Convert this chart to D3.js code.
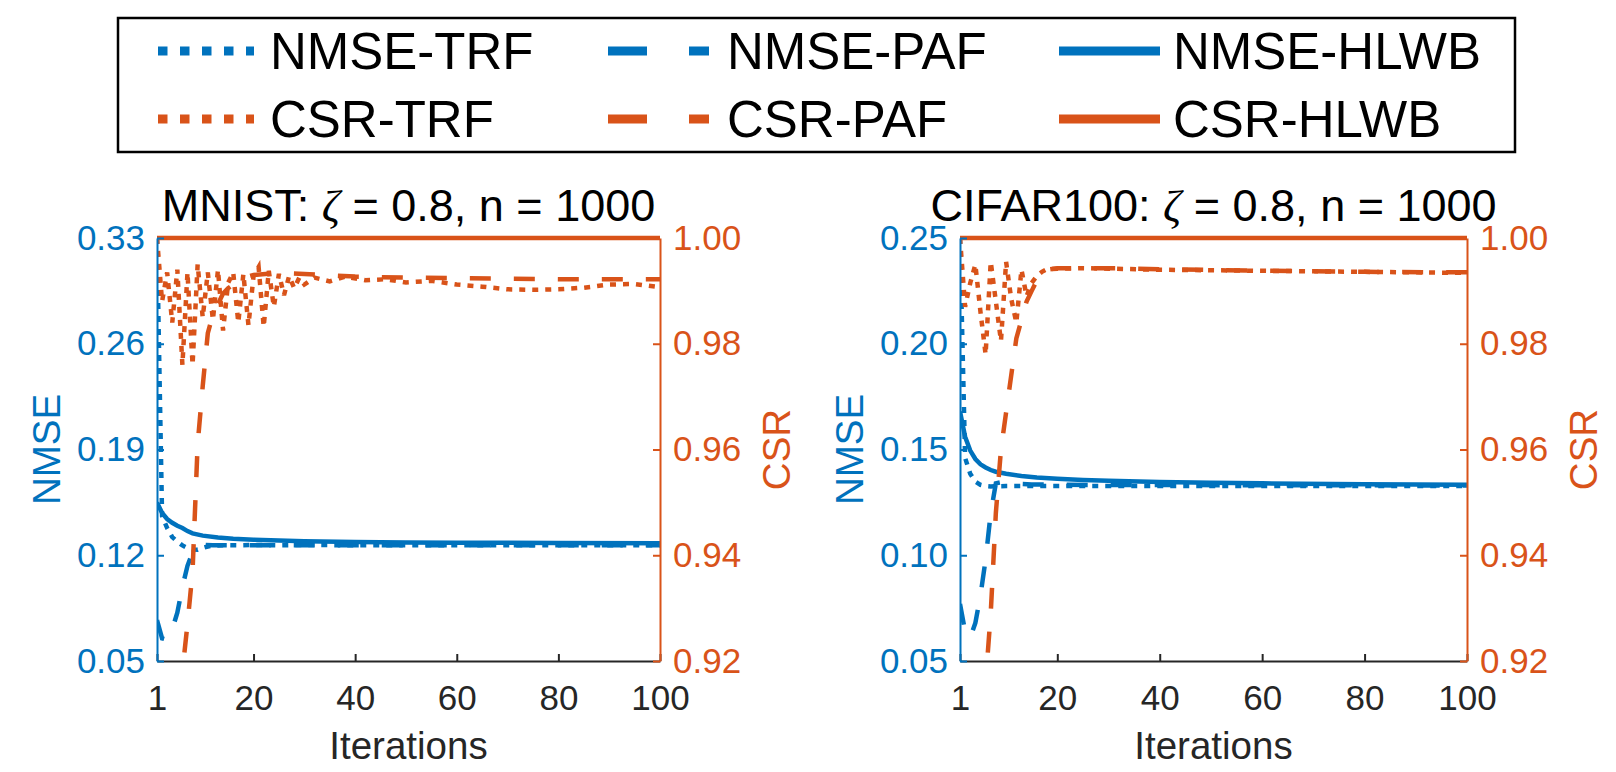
<!DOCTYPE html>
<html>
<head>
<meta charset="utf-8">
<script src="https://cdn.jsdelivr.net/npm/d3@7"></script>
<style>
  body { margin: 0; background: #fff; }
  svg { display: block; font-family: "Liberation Sans", Arial, Helvetica, sans-serif; }
</style>
</head>
<body>
<div id="chart"></div>
<script>
// Canvas size and colours (MATLAB default palette)
const width = 1616;
const height = 772;
const blue = "#0072BD";
const orange = "#D95319";
const dark = "#262626";

// Tick labels
const xTicks = [1, 20, 40, 60, 80, 100];
const csrTicks = [0.92, 0.94, 0.96, 0.98, 1.00];
const mnistNmseTicks = [0.05, 0.12, 0.19, 0.26, 0.33];
const cifarNmseTicks = [0.05, 0.10, 0.15, 0.20, 0.25];

// Legend entries
const legendNames = ["NMSE-TRF", "NMSE-PAF", "NMSE-HLWB", "CSR-TRF", "CSR-PAF", "CSR-HLWB"];

// MNIST series: [iteration, value]
const mnistNmseTRF = [[1,0.330],[2,0.146],[3,0.138],[4,0.132],[5,0.129],[6,0.1265],[7,0.1248],[8,0.1238],[9,0.1236],[10,0.1248],[11,0.1258],[12,0.1264],[14,0.1267],[17,0.1266],[20,0.1268],[25,0.1266],[30,0.1268],[40,0.1266],[50,0.1267],[60,0.1266],[70,0.1267],[80,0.1266],[90,0.1266],[100,0.1266]];
const mnistNmsePAF = [[1,0.077],[2,0.065],[3,0.064],[4,0.071],[5,0.082],[6,0.099],[7,0.113],[8,0.122],[9,0.1262],[10,0.1268],[12,0.1267],[20,0.1267],[40,0.1266],[60,0.1266],[80,0.1266],[100,0.1266]];
const mnistNmseHLWB = [[1,0.155],[2,0.148],[3,0.144],[4,0.1415],[5,0.1395],[6,0.138],[7,0.136],[8,0.1345],[10,0.133],[13,0.1318],[16,0.131],[20,0.1303],[25,0.1297],[30,0.1293],[40,0.1288],[50,0.1285],[60,0.1283],[80,0.1281],[100,0.128]];
const mnistCsrTRF = [[1,1.000],[2,0.988],[3,0.9935],[4,0.984],[5,0.994],[6,0.976],[7,0.9935],[8,0.976],[9,0.995],[10,0.985],[11,0.9935],[12,0.9845],[13,0.994],[14,0.9825],[15,0.9915],[16,0.9935],[17,0.984],[18,0.9932],[19,0.9835],[20,0.9928],[21,0.9945],[22,0.9832],[23,0.9938],[24,0.987],[25,0.9932],[26,0.9892],[27,0.9928],[28,0.9905],[29,0.9925],[30,0.9912],[32,0.9925],[35,0.9918],[38,0.9927],[42,0.992],[46,0.9922],[50,0.9916],[55,0.9919],[60,0.9912],[65,0.9908],[70,0.9903],[75,0.9902],[80,0.9903],[85,0.9906],[90,0.9912],[95,0.9913],[100,0.9907]];
const mnistCsrPAF = [[5,0.905],[6,0.918],[7,0.927],[8,0.937],[9,0.961],[10,0.972],[11,0.982],[12,0.9855],[13,0.9875],[14,0.9895],[15,0.9905],[16,0.9912],[17,0.992],[18,0.9925],[20,0.993],[25,0.9934],[30,0.9932],[40,0.9927],[50,0.9925],[60,0.9924],[70,0.9923],[80,0.9922],[90,0.9922],[100,0.9922]];
const mnistCsrHLWB = [[1,1.0],[100,1.0]];

// CIFAR100 series: [iteration, value]
const cifarNmseTRF = [[1,0.250],[2,0.146],[3,0.1385],[4,0.1348],[5,0.1333],[6,0.1327],[7,0.1325],[8,0.1326],[10,0.1327],[15,0.1328],[20,0.1328],[30,0.1328],[40,0.1328],[60,0.1328],[80,0.1327],[100,0.1327]];
const cifarNmsePAF = [[1,0.077],[2,0.064],[3,0.061],[4,0.068],[5,0.081],[6,0.098],[7,0.12],[8,0.134],[9,0.1345],[10,0.1342],[12,0.1338],[15,0.1335],[20,0.1333],[40,0.1332],[60,0.1331],[100,0.133]];
const cifarNmseHLWB = [[1,0.168],[2,0.156],[3,0.1495],[4,0.1455],[5,0.143],[6,0.1415],[7,0.1403],[8,0.1395],[10,0.1385],[13,0.1375],[16,0.1368],[20,0.1362],[25,0.1356],[30,0.1352],[40,0.1346],[50,0.1343],[60,0.134],[80,0.1336],[100,0.1333]];
const cifarCsrTRF = [[1,1.0],[2,0.987],[3,0.9915],[4,0.995],[5,0.986],[6,0.978],[7,0.9955],[8,0.988],[9,0.9805],[10,0.9955],[11,0.9885],[12,0.984],[13,0.994],[14,0.989],[15,0.9915],[16,0.9928],[17,0.9936],[18,0.9941],[20,0.9942],[25,0.9943],[30,0.9942],[40,0.994],[50,0.9939],[60,0.9938],[70,0.9937],[80,0.9936],[90,0.9935],[100,0.9934]];
const cifarCsrPAF = [[5,0.905],[6,0.916],[7,0.929],[8,0.948],[9,0.96],[10,0.967],[11,0.974],[12,0.981],[13,0.9845],[14,0.988],[15,0.99],[16,0.992],[17,0.9935],[18,0.994],[20,0.9943],[30,0.9943],[40,0.9941],[60,0.9938],[80,0.9936],[100,0.9935]];
const cifarCsrHLWB = [[1,1.0],[100,1.0]];

// Line styles for TRF / PAF / HLWB
const plotDash = ["6,7", "21,23", null];
const legendDash = ["9.5,12.5", "39,42", null];

// Plot box (shared top/bottom)
const plotTop = 238;
const plotBottom = 661;

const svg = d3.select("#chart")
  .append("svg")
  .attr("width", width)
  .attr("height", height)
  .attr("viewBox", [0, 0, width, height]);

function drawPanel(p) {
  const x = d3.scaleLinear().domain([1, 100]).range([p.left, p.right]);
  const yL = d3.scaleLinear().domain([p.nmseTicks[0], p.nmseTicks[p.nmseTicks.length - 1]]).range([plotBottom, plotTop]);
  const yR = d3.scaleLinear().domain([0.92, 1.00]).range([plotBottom, plotTop]);

  // clip lines to the axes box (a little room on top for the CSR = 1 line)
  svg.append("clipPath").attr("id", "clip-" + p.id)
    .append("rect")
    .attr("x", p.left).attr("y", plotTop - 4)
    .attr("width", p.right - p.left).attr("height", plotBottom - plotTop + 4);

  const g = svg.append("g").attr("clip-path", `url(#clip-${p.id})`);

  // left (NMSE) lines first, CSR lines on top
  p.nmse.forEach((s, i) => {
    g.append("path")
      .datum(s)
      .attr("fill", "none")
      .attr("stroke", blue)
      .attr("stroke-width", 4.5)
      .attr("stroke-dasharray", plotDash[i])
      .attr("d", d3.line().x(d => x(d[0])).y(d => yL(d[1])));
  });
  p.csr.forEach((s, i) => {
    g.append("path")
      .datum(s)
      .attr("fill", "none")
      .attr("stroke", orange)
      .attr("stroke-width", 4.5)
      .attr("stroke-dasharray", plotDash[i])
      .attr("d", d3.line().x(d => x(d[0])).y(d => yR(d[1])));
  });

  // bottom axis
  const ax = svg.append("g")
    .attr("transform", `translate(0,${plotBottom})`)
    .call(d3.axisBottom(x).tickValues(xTicks).tickSizeInner(-7).tickSizeOuter(0).tickPadding(24))
    .attr("font-size", 35)
    .attr("font-family", null)
    .attr("color", dark);
  ax.select(".domain").attr("stroke-width", 2);
  ax.selectAll(".tick line").attr("stroke-width", 2);

  // left axis (NMSE)
  const al = svg.append("g")
    .attr("transform", `translate(${p.left},0)`)
    .call(d3.axisLeft(yL).tickValues(p.nmseTicks).tickFormat(d3.format(".2f")).tickSizeInner(-7).tickSizeOuter(0).tickPadding(12))
    .attr("font-size", 35)
    .attr("font-family", null)
    .attr("color", blue);
  al.select(".domain").attr("stroke-width", 2);
  al.selectAll(".tick line").attr("stroke-width", 2);

  // right axis (CSR)
  const ar = svg.append("g")
    .attr("transform", `translate(${p.right},0)`)
    .call(d3.axisRight(yR).tickValues(csrTicks).tickFormat(d3.format(".2f")).tickSizeInner(-7).tickSizeOuter(0).tickPadding(13))
    .attr("font-size", 35)
    .attr("font-family", null)
    .attr("color", orange);
  ar.select(".domain").attr("stroke-width", 2);
  ar.selectAll(".tick line").attr("stroke-width", 2);

  // axis labels
  svg.append("text")
    .attr("x", (p.left + p.right) / 2).attr("y", 759)
    .attr("text-anchor", "middle").attr("font-size", 38.5).attr("fill", dark)
    .text("Iterations");
  svg.append("text")
    .attr("transform", `translate(${p.left - 97},${(plotTop + plotBottom) / 2}) rotate(-90)`)
    .attr("text-anchor", "middle").attr("font-size", 38.5).attr("fill", blue)
    .text("NMSE");
  svg.append("text")
    .attr("transform", `translate(${p.right + 130},${(plotTop + plotBottom) / 2}) rotate(-90)`)
    .attr("text-anchor", "middle").attr("font-size", 38.5).attr("fill", orange)
    .text("CSR");

  // title with italic zeta
  const t = svg.append("text")
    .attr("x", (p.left + p.right) / 2).attr("y", 221)
    .attr("text-anchor", "middle").attr("font-size", 45).attr("fill", "#000");
  t.append("tspan").text(p.title + ": ");
  t.append("tspan").attr("font-family", "'Liberation Serif', 'DejaVu Serif', serif").attr("font-style", "italic").text("\u03B6");
  t.append("tspan").text(" = 0.8, n = 1000");
}

drawPanel({id: "mnist", title: "MNIST", left: 157, right: 660, nmseTicks: mnistNmseTicks,
  nmse: [mnistNmseTRF, mnistNmsePAF, mnistNmseHLWB], csr: [mnistCsrTRF, mnistCsrPAF, mnistCsrHLWB]});
drawPanel({id: "cifar", title: "CIFAR100", left: 960, right: 1467, nmseTicks: cifarNmseTicks,
  nmse: [cifarNmseTRF, cifarNmsePAF, cifarNmseHLWB], csr: [cifarCsrTRF, cifarCsrPAF, cifarCsrHLWB]});

// LEGEND
svg.append("rect")
  .attr("x", 118).attr("y", 18)
  .attr("width", 1397).attr("height", 134)
  .attr("fill", "#fff").attr("stroke", "#000").attr("stroke-width", 2.5);

const legendCols = [{x1: 158, x2: 254, tx: 270}, {x1: 608, x2: 709, tx: 727}, {x1: 1059, x2: 1160, tx: 1173}];
const legendRows = [51, 119];

legendNames.forEach((name, i) => {
  const col = legendCols[i % 3];
  const row = legendRows[Math.floor(i / 3)];
  svg.append("line")
    .attr("x1", col.x1).attr("x2", col.x2)
    .attr("y1", row).attr("y2", row)
    .attr("stroke", i < 3 ? blue : orange)
    .attr("stroke-width", 9)
    .attr("stroke-dasharray", legendDash[i % 3]);
  svg.append("text")
    .attr("x", col.tx).attr("y", row + 18)
    .attr("font-size", 51).attr("fill", "#000")
    .text(name);
});
</script>
</body>
</html>
